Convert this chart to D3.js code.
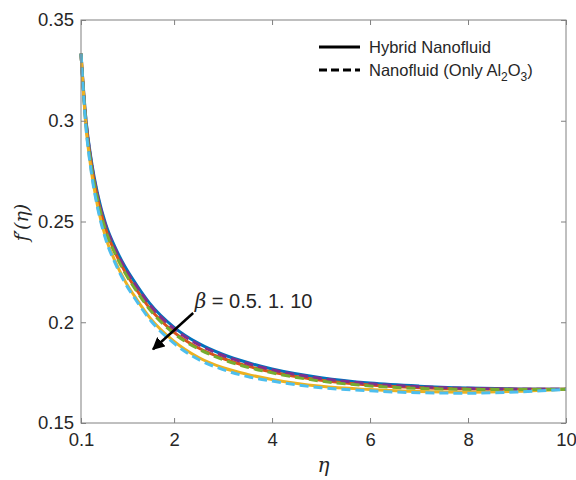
<!DOCTYPE html>
<html>
<head>
<meta charset="utf-8">
<script src="https://cdn.jsdelivr.net/npm/d3@7"></script>
<style>
  body { margin: 0; background: #fff; }
  svg text { font-family: "Liberation Sans", Arial, sans-serif; fill: #262626; }
</style>
</head>
<body>
<svg id="fig" width="576" height="480"></svg>
<script>
// eta grid shared by all curves
const eta = [0.1, 0.2, 0.3, 0.45, 0.6, 0.8, 1, 1.25, 1.5, 2, 2.5, 3, 3.5, 4, 5, 6, 7, 8, 9, 10];

// f'(eta)
const hybridB05 = [0.3333, 0.3010, 0.2820, 0.2625, 0.2490, 0.2370, 0.2275, 0.2180, 0.2095, 0.1975, 0.1895, 0.1840, 0.1800, 0.1768, 0.1725, 0.1698, 0.1683, 0.1674, 0.1669, 0.1667];
const hybridB1  = [0.3333, 0.2995, 0.2800, 0.2603, 0.2466, 0.2345, 0.2250, 0.2155, 0.2070, 0.1950, 0.1872, 0.1820, 0.1782, 0.1753, 0.1712, 0.1688, 0.1675, 0.1669, 0.1667, 0.1667];
const hybridB10 = [0.3333, 0.2975, 0.2770, 0.2564, 0.2424, 0.2301, 0.2204, 0.2109, 0.2024, 0.1905, 0.1825, 0.1774, 0.1741, 0.1716, 0.1682, 0.1666, 0.1656, 0.1653, 0.1657, 0.1667];
const nanoB05   = [0.3333, 0.3005, 0.2812, 0.2617, 0.2482, 0.2362, 0.2267, 0.2172, 0.2088, 0.1968, 0.1889, 0.1835, 0.1795, 0.1764, 0.1721, 0.1695, 0.1680, 0.1672, 0.1668, 0.1667];
const nanoB1    = [0.3333, 0.2992, 0.2795, 0.2598, 0.2460, 0.2339, 0.2244, 0.2149, 0.2064, 0.1944, 0.1867, 0.1815, 0.1777, 0.1749, 0.1708, 0.1684, 0.1672, 0.1667, 0.1666, 0.1667];
const nanoB10   = [0.3333, 0.2970, 0.2762, 0.2555, 0.2415, 0.2292, 0.2195, 0.2100, 0.2015, 0.1895, 0.1815, 0.1765, 0.1730, 0.1708, 0.1675, 0.1660, 0.1650, 0.1648, 0.1654, 0.1667];

const xTicks = [0.1, 2, 4, 6, 8, 10];
const yTicks = [0.15, 0.2, 0.25, 0.3, 0.35];

const series = [
  {vals: hybridB05, color: "#0072BD", dash: null},
  {vals: hybridB1,  color: "#D95319", dash: null},
  {vals: hybridB10, color: "#EDB120", dash: null},
  {vals: nanoB05,   color: "#7E2F8E", dash: "9,5"},
  {vals: nanoB1,    color: "#77AC30", dash: "9,5"},
  {vals: nanoB10,   color: "#4DBEEE", dash: "9,5"}
];

const svg = d3.select("#fig");
const margin = {left: 81, top: 20, right: 10, bottom: 57};
const W = 576 - margin.left - margin.right;
const H = 480 - margin.top - margin.bottom;

const x = d3.scaleLinear().domain([0.1, 10]).range([0, W]);
const y = d3.scaleLinear().domain([0.15, 0.35]).range([H, 0]);

const g = svg.append("g").attr("transform", `translate(${margin.left},${margin.top})`);

// curves
const line = d3.line()
  .x((d, i) => x(eta[i]))
  .y(d => y(d))
  .curve(d3.curveMonotoneX);

series.forEach(s => {
  g.append("path")
    .attr("d", line(s.vals))
    .attr("fill", "none")
    .attr("stroke", s.color)
    .attr("stroke-width", 3)
    .attr("stroke-dasharray", s.dash);
});

// box with inward ticks
const axisColor = "#808080";
g.append("rect").attr("width", W).attr("height", H)
  .attr("fill", "none").attr("stroke", axisColor).attr("stroke-width", 1);

const fmtY = d => d3.format("")(+d.toFixed(2));

g.append("g").attr("transform", `translate(0,${H})`)
  .call(d3.axisBottom(x).tickValues(xTicks).tickSizeInner(-5).tickSizeOuter(0).tickPadding(10).tickFormat(d => d))
  .call(a => a.select(".domain").remove());
g.append("g")
  .call(d3.axisTop(x).tickValues(xTicks).tickSizeInner(-5).tickSizeOuter(0).tickFormat(""))
  .call(a => a.select(".domain").remove());
g.append("g")
  .call(d3.axisLeft(y).tickValues(yTicks).tickSizeInner(-5).tickSizeOuter(0).tickPadding(7).tickFormat(fmtY))
  .call(a => a.select(".domain").remove());
g.append("g").attr("transform", `translate(${W},0)`)
  .call(d3.axisRight(y).tickValues(yTicks).tickSizeInner(-5).tickSizeOuter(0).tickFormat(""))
  .call(a => a.select(".domain").remove());

g.selectAll(".tick line").attr("stroke", axisColor);
g.selectAll(".tick text").style("font-size", "18.5px").attr("fill", "#262626")
  .style("font-family", "'Liberation Sans', Arial, sans-serif");

// axis titles
svg.append("text")
  .attr("x", margin.left + W / 2).attr("y", 472)
  .attr("text-anchor", "middle")
  .style("font-family", "'DejaVu Serif', serif").style("font-style", "italic")
  .style("font-size", "20px").text("η");

svg.append("text")
  .attr("transform", `translate(28,${margin.top + y(0.25) + 1}) rotate(-90)`)
  .attr("text-anchor", "middle")
  .style("font-family", "'DejaVu Serif', serif").style("font-style", "italic")
  .style("font-size", "19px").text("f′(η)");

// legend
const leg = g.append("g");
const legItems = [{dash: null, y: 27}, {dash: "8,4", y: 50}];
legItems.forEach(it => {
  leg.append("line")
    .attr("x1", 238).attr("x2", 279).attr("y1", it.y).attr("y2", it.y)
    .attr("stroke", "#000").attr("stroke-width", 3).attr("stroke-dasharray", it.dash);
});
leg.append("text").attr("x", 288).attr("y", 33).style("font-size", "16.5px").attr("fill", "#000")
  .text("Hybrid Nanofluid");
const t2 = leg.append("text").attr("x", 288).attr("y", 56).style("font-size", "16.5px").attr("fill", "#000");
t2.append("tspan").text("Nanofluid (Only Al");
t2.append("tspan").attr("dy", 5).style("font-size", "12px").text("2");
t2.append("tspan").attr("dy", -5).text("O");
t2.append("tspan").attr("dy", 5).style("font-size", "12px").text("3");
t2.append("tspan").attr("dy", -5).text(")");

// annotation arrow
const a0 = {e: 2.39, v: 0.2046}, a1 = {e: 1.57, v: 0.1866};
svg.append("defs").append("marker")
  .attr("id", "head").attr("viewBox", "0 0 10 10").attr("refX", 9).attr("refY", 5)
  .attr("markerWidth", 5).attr("markerHeight", 5).attr("orient", "auto")
  .append("path").attr("d", "M0,0 L10,5 L0,10 z").attr("fill", "#000");
g.append("line")
  .attr("x1", x(a0.e)).attr("y1", y(a0.v))
  .attr("x2", x(a1.e)).attr("y2", y(a1.v))
  .attr("stroke", "#000").attr("stroke-width", 2.5)
  .attr("marker-end", "url(#head)");

const ann = g.append("text").attr("x", x(2.42)).attr("y", y(0.2073))
  .style("font-size", "20px").attr("fill", "#000");
ann.append("tspan").style("font-family", "'DejaVu Serif', serif").style("font-style", "italic").text("β");
ann.append("tspan").text(" = 0.5. 1. 10");
</script>
</body>
</html>
